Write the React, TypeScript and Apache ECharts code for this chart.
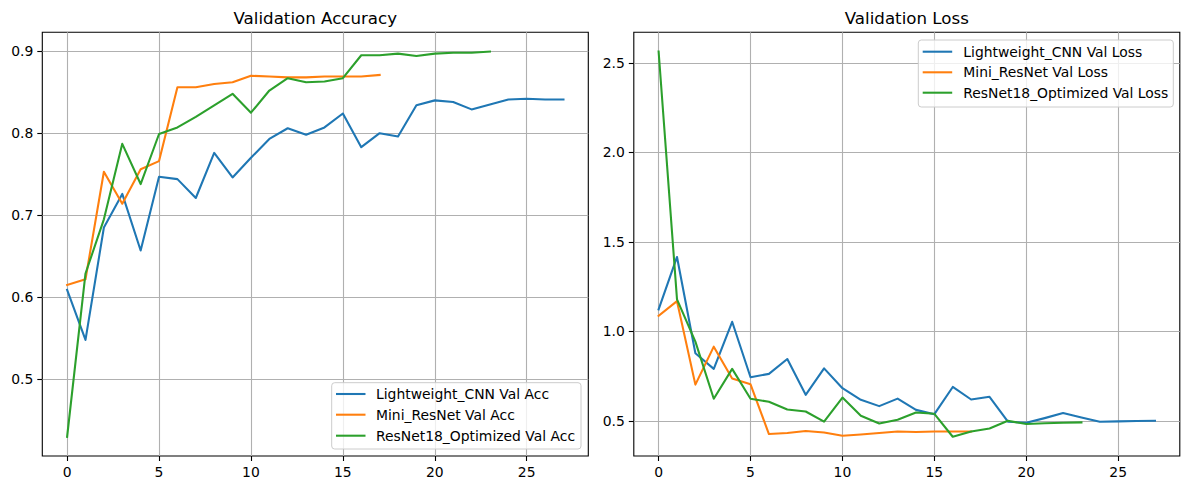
import React, { useEffect, useRef } from "react";
import * as echarts from "echarts";

const lightAcc = [0.609, 0.548, 0.685, 0.726, 0.657, 0.747, 0.744, 0.721, 0.776, 0.746, 0.770, 0.793, 0.806, 0.798, 0.807, 0.824, 0.783, 0.800, 0.796, 0.834, 0.840, 0.838, 0.829, 0.835, 0.841, 0.842, 0.841, 0.841];
const miniAcc = [0.615, 0.622, 0.753, 0.714, 0.756, 0.766, 0.856, 0.856, 0.860, 0.862, 0.870, 0.869, 0.868, 0.868, 0.869, 0.869, 0.869, 0.871];
const resAcc = [0.430, 0.629, 0.695, 0.787, 0.738, 0.799, 0.807, 0.820, 0.834, 0.848, 0.825, 0.852, 0.867, 0.862, 0.863, 0.867, 0.895, 0.895, 0.897, 0.894, 0.897, 0.898, 0.898, 0.8995];

const lightLoss = [1.123, 1.416, 0.878, 0.791, 1.054, 0.744, 0.763, 0.846, 0.646, 0.794, 0.683, 0.618, 0.583, 0.625, 0.562, 0.538, 0.690, 0.620, 0.635, 0.496, 0.490, 0.516, 0.544, 0.519, 0.496, 0.498, 0.500, 0.501];
const miniLoss = [1.087, 1.169, 0.703, 0.915, 0.737, 0.705, 0.427, 0.433, 0.444, 0.436, 0.418, 0.425, 0.433, 0.441, 0.438, 0.441, 0.441, 0.441];
const resLoss = [2.563, 1.179, 0.943, 0.624, 0.791, 0.624, 0.607, 0.564, 0.553, 0.496, 0.631, 0.529, 0.486, 0.507, 0.547, 0.540, 0.412, 0.441, 0.458, 0.501, 0.483, 0.487, 0.490, 0.492];

const xTicks = [0, 5, 10, 15, 20, 25];
const accTicks = [0.5, 0.6, 0.7, 0.8, 0.9];
const lossTicks = [0.5, 1.0, 1.5, 2.0, 2.5];

const accTitle = "Validation Accuracy";
const lossTitle = "Validation Loss";
const accNames = ["Lightweight_CNN Val Acc", "Mini_ResNet Val Acc", "ResNet18_Optimized Val Acc"];
const lossNames = ["Lightweight_CNN Val Loss", "Mini_ResNet Val Loss", "ResNet18_Optimized Val Loss"];
const colors = ["#1f77b4", "#ff7f0e", "#2ca02c"];

const FONT = "DejaVu Sans";

function padRange(arrs: number[][]): [number, number] {
  let mn = Infinity, mx = -Infinity;
  arrs.forEach((a) => a.forEach((v) => { mn = Math.min(mn, v); mx = Math.max(mx, v); }));
  const m = (mx - mn) * 0.05;
  return [mn - m, mx + m];
}

export default function App() {
  const ref = useRef<HTMLDivElement>(null);
  useEffect(() => {
    if (!ref.current) return;
    const chart = echarts.init(ref.current, undefined, { renderer: "svg" });

    const accSets = [lightAcc, miniAcc, resAcc];
    const lossSets = [lightLoss, miniLoss, resLoss];
    const maxLen = Math.max(...accSets.map((a) => a.length), ...lossSets.map((a) => a.length)) - 1;
    const xm = maxLen * 0.05;
    const xRange: [number, number] = [-xm, maxLen + xm];
    const accRange = padRange(accSets);
    const lossRange = padRange(lossSets);

    const grids = [
      { left: 42.3, top: 32.3, width: 546, height: 423.7 },
      { left: 633.8, top: 32.3, width: 546, height: 423.7 },
    ];

    const tickStyle = { show: true, inside: false, length: 5, lineStyle: { color: "#000", width: 1.1 } };
    const labelStyle = { color: "#000", fontSize: 13.9, fontFamily: FONT };
    const splitStyle = { show: true, lineStyle: { color: "#b0b0b0", width: 1.1 } };

    const xAxis = [0, 1].map((i) => ({
      type: "value",
      gridIndex: i,
      min: xRange[0],
      max: xRange[1],
      minInterval: 5,
      maxInterval: 5,
      axisLine: { show: false, onZero: false },
      axisTick: { ...tickStyle, customValues: xTicks },
      axisLabel: { ...labelStyle, margin: 9, customValues: xTicks, formatter: (v: number) => String(v) },
      splitLine: splitStyle,
    }));

    const yAxis = [
      { range: accRange, ticks: accTicks, interval: 0.1 },
      { range: lossRange, ticks: lossTicks, interval: 0.5 },
    ].map((c, i) => ({
      type: "value",
      gridIndex: i,
      min: c.range[0],
      max: c.range[1],
      minInterval: c.interval,
      maxInterval: c.interval,
      axisLine: { show: false, onZero: false },
      axisTick: { ...tickStyle, customValues: c.ticks },
      axisLabel: { ...labelStyle, margin: 9, customValues: c.ticks, formatter: (v: number) => v.toFixed(1) },
      splitLine: splitStyle,
    }));

    const mkSeries = (sets: number[][], names: string[], idx: number) =>
      sets.map((arr, k) => ({
        type: "line",
        name: names[k],
        xAxisIndex: idx,
        yAxisIndex: idx,
        data: arr.map((v, j) => [j, v]),
        showSymbol: false,
        symbol: "none",
        color: colors[k],
        lineStyle: { color: colors[k], width: 2.08, join: "round", cap: "square" },
        emphasis: { disabled: true },
        clip: true,
        z: 3,
      }));

    const legendBox = (x: number, y: number, w: number, h: number, rows: number[], hx: number, tx: number, names: string[]) => {
      const els: any[] = [
        {
          type: "rect",
          shape: { x, y, width: w, height: h, r: 3 },
          style: { fill: "rgba(255,255,255,0.8)", stroke: "#cccccc", lineWidth: 1 },
          z: 10,
        },
      ];
      names.forEach((n, k) => {
        els.push({
          type: "line",
          shape: { x1: hx, y1: rows[k], x2: hx + 29.5, y2: rows[k] },
          style: { stroke: colors[k], lineWidth: 2.08 },
          z: 11,
        });
        els.push({
          type: "text",
          x: tx,
          y: rows[k],
          style: { text: n, fill: "#000", fontSize: 13.9, fontFamily: FONT, align: "left", verticalAlign: "middle" },
          z: 11,
        });
      });
      return els;
    };

    const graphic: any[] = [
      {
        type: "text",
        x: 42.3 + 273,
        y: 18.2,
        style: { text: accTitle, fill: "#000", fontSize: 16.67, fontFamily: FONT, align: "center", verticalAlign: "middle" },
      },
      {
        type: "text",
        x: 633.8 + 273,
        y: 18.2,
        style: { text: lossTitle, fill: "#000", fontSize: 16.67, fontFamily: FONT, align: "center", verticalAlign: "middle" },
      },
      ...legendBox(331.7, 382.7, 249.3, 66.3, [394, 414.7, 435.7], 336, 376, accNames),
      ...legendBox(918.3, 40, 255, 67, [51.7, 72.3, 92.7], 922.7, 963.3, lossNames),
    ];

    chart.setOption({
      animation: false,
      backgroundColor: "#ffffff",
      textStyle: { fontFamily: FONT },
      grid: grids.map((g) => ({ ...g, show: true, borderColor: "#000", borderWidth: 1.1, backgroundColor: "transparent", containLabel: false })),
      xAxis,
      yAxis,
      series: [...mkSeries(accSets, accNames, 0), ...mkSeries(lossSets, lossNames, 1)],
      graphic,
    } as any);

    return () => chart.dispose();
  }, []);

  return (
    <div
      ref={ref}
      style={{ position: "fixed", left: 0, top: 0, width: 1189, height: 490, background: "#fff" }}
    />
  );
}
